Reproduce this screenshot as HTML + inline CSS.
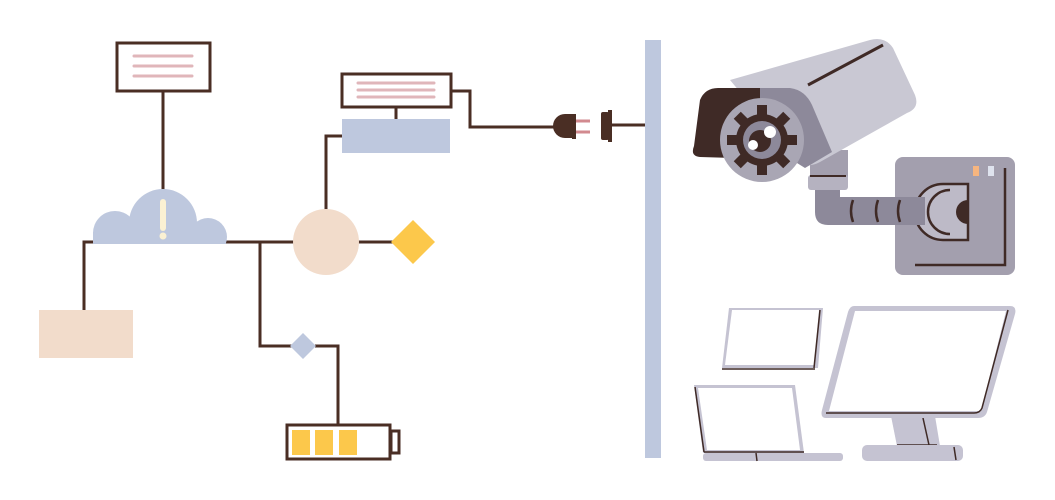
<!DOCTYPE html>
<html><head><meta charset="utf-8"><style>html,body{margin:0;padding:0;background:#fff}svg{display:block}</style></head>
<body>
<svg width="1055" height="500" viewBox="0 0 1055 500" xmlns="http://www.w3.org/2000/svg">
<defs><clipPath id="cc"><rect x="80" y="180" width="160" height="64"/></clipPath></defs>
<g fill="none" stroke="#4a2e24" stroke-width="3">
<line x1="163" y1="91" x2="163" y2="192"/>
<polyline points="94,242 84,242 84,311"/>
<line x1="226" y1="242" x2="296" y2="242"/>
<polyline points="260,242 260,346 292,346"/>
<polyline points="315,346 338,346 338,425"/>
<line x1="358" y1="242" x2="393" y2="242"/>
<polyline points="326,210 326,136 343,136"/>
<line x1="396" y1="107" x2="396" y2="120"/>
<polyline points="451,91 470,91 470,127 562,127"/>
<line x1="612" y1="125" x2="646" y2="125"/>
</g>
<rect x="117" y="43" width="93" height="48" fill="#fff" stroke="#4a2e24" stroke-width="3"/>
<g stroke="#e0b6ba" stroke-width="3" stroke-linecap="round"><line x1="134" y1="56" x2="192" y2="56"/><line x1="134" y1="66" x2="192" y2="66"/><line x1="134" y1="76" x2="192" y2="76"/></g>
<g fill="#bec8de" clip-path="url(#cc)"><circle cx="163" cy="223" r="34"/><circle cx="115" cy="233" r="22"/><circle cx="208" cy="237" r="19"/><rect x="93" y="232" width="133" height="12"/></g>
<rect x="160" y="199" width="6" height="32" rx="3" fill="#fbf1d3"/><circle cx="163" cy="236" r="3.5" fill="#fbf1d3"/>
<rect x="39" y="310" width="94" height="48" fill="#f2dccb"/>
<circle cx="326" cy="242" r="33" fill="#f2dccb"/>
<polygon points="413,220 435,242 413,264 391,242" fill="#fcc84b"/>
<polygon points="303,333 316,346 303,359 290,346" fill="#bec8de"/>
<rect x="287" y="425" width="103" height="34" fill="#fff" stroke="#4a2e24" stroke-width="3"/>
<rect x="391" y="431" width="8" height="22" fill="#fff" stroke="#4a2e24" stroke-width="3"/>
<g fill="#fcc84b"><rect x="292" y="430" width="18" height="25"/><rect x="315" y="430" width="18" height="25"/><rect x="339" y="430" width="18" height="25"/></g>
<rect x="342" y="119" width="108" height="34" fill="#bec8de"/>
<rect x="342" y="74" width="109" height="33" fill="#fff" stroke="#4a2e24" stroke-width="3"/>
<g stroke="#e0b6ba" stroke-width="3" stroke-linecap="round"><line x1="358" y1="83" x2="434" y2="83"/><line x1="358" y1="90" x2="434" y2="90"/><line x1="358" y1="97" x2="434" y2="97"/></g>
<path d="M572,114 L572,138 L565,138 A12,12 0 0 1 565,114 Z" fill="#4a2e24"/>
<rect x="572" y="114" width="4" height="25" fill="#4a2e24"/>
<g stroke="#d28a8f" stroke-width="3"><line x1="576" y1="121" x2="590" y2="121"/><line x1="576" y1="132" x2="590" y2="132"/></g>
<rect x="601" y="112" width="8" height="28" rx="2" fill="#4a2e24"/><rect x="608" y="110" width="4" height="32" fill="#4a2e24"/>
<rect x="645" y="40" width="16" height="418" fill="#bec8de"/>
<!-- mount -->
<rect x="895" y="157" width="120" height="118" rx="8" fill="#a39fae"/>
<polyline points="1005,168 1005,265 915,265" fill="none" stroke="#3f2a26" stroke-width="2.5"/>
<rect x="973" y="166" width="6" height="10" fill="#f6b57f"/><rect x="988" y="166" width="6" height="10" fill="#dfe3ee"/>
<path d="M968,184 L943,184 A28,28 0 0 0 943,240 L968,240 Z" fill="#bdbac7" stroke="#3f2a26" stroke-width="2.5"/>
<path d="M950,190 A22,22 0 0 0 950,234" fill="none" stroke="#3f2a26" stroke-width="2.5"/>
<path d="M968,200 A12,12 0 0 0 968,224 Z" fill="#3f2a26"/>
<path d="M815,175 L840,175 L840,197 L925,197 L925,225 L828,225 Q815,225 815,212 Z" fill="#8d899a"/>
<g stroke="#3f2a26" stroke-width="2.5" fill="none"><path d="M853,200 q-4,11 0,22"/><path d="M878,200 q-4,11 0,22"/><path d="M900,200 q-4,11 0,22"/></g>
<rect x="810" y="150" width="38" height="30" fill="#a39fae"/>
<rect x="808" y="175" width="40" height="15" rx="3" fill="#b5b2c0"/>
<line x1="810" y1="176" x2="846" y2="176" stroke="#3f2a26" stroke-width="2"/>
<!-- body -->
<path d="M730,80 L870,40 Q885,36 893,48 L915,95 Q920,108 907,113 L820,162 Q805,170 795,158 Z" fill="#c9c8d3"/>
<path d="M700,100 Q705,88 718,88 L775,88 L808,125 L800,160 L700,157 Q690,156 694,146 Z" fill="#3f2a26"/>
<path d="M760,88 L790,88 Q805,90 812,105 L832,152 L805,168 L760,140 Z" fill="#8d899a"/>
<line x1="808" y1="85" x2="883" y2="45" stroke="#3f2a26" stroke-width="3"/>
<circle cx="762" cy="140" r="42" fill="#a9a6b4"/>
<g fill="#3f2a26" transform="translate(762,140)">
<circle r="26"/>
<rect x="-5" y="-35" width="10" height="70"/><rect x="-35" y="-5" width="70" height="10"/><rect x="-5" y="-35" width="10" height="70" transform="rotate(45)"/><rect x="-5" y="-35" width="10" height="70" transform="rotate(-45)"/>
</g>
<circle cx="762" cy="140" r="19" fill="#8d899a"/>
<circle cx="760" cy="141" r="11" fill="#3f2a26"/>
<circle cx="770" cy="132" r="6" fill="#fff"/><circle cx="753" cy="145" r="5" fill="#fff"/>
<!-- tablet -->
<polygon points="729,308 823,308 818,368 722,368" fill="#c5c3d2"/>
<polygon points="732,310 819,310 814,365 725,365" fill="#fff"/>
<line x1="820" y1="310" x2="814" y2="368" stroke="#3f2a26" stroke-width="1.5"/>
<line x1="722" y1="369" x2="815" y2="369" stroke="#3f2a26" stroke-width="1.5"/>
<!-- laptop -->
<polygon points="694,385 795,385 804,453 703,453" fill="#c5c3d2"/>
<polygon points="698,388 792,388 800,450 707,450" fill="#fff"/>
<line x1="695" y1="387" x2="704" y2="452" stroke="#3f2a26" stroke-width="1.5"/>
<line x1="704" y1="452" x2="804" y2="452" stroke="#3f2a26" stroke-width="1.5"/>
<rect x="703" y="453" width="140" height="8" rx="3" fill="#c5c3d2"/>
<line x1="756" y1="453" x2="757" y2="461" stroke="#3f2a26" stroke-width="1.5"/>
<!-- monitor -->
<polygon points="891,416 935,416 940,446 897,446" fill="#c5c3d2"/>
<line x1="923" y1="418" x2="929" y2="445" stroke="#3f2a26" stroke-width="1.5"/>
<line x1="897" y1="445" x2="937" y2="445" stroke="#3f2a26" stroke-width="1.5"/>
<rect x="862" y="445" width="101" height="16" rx="5" fill="#c5c3d2"/>
<line x1="954" y1="447" x2="956" y2="460" stroke="#3f2a26" stroke-width="1.5"/>
<path d="M854,306 L1010,306 Q1017,306 1015,314 L987,412 Q985,418 978,418 L826,418 Q820,418 822,410 L848,312 Q850,306 854,306 Z" fill="#c5c3d2"/>
<polygon points="855,311 1006,311 981,411 829,411" fill="#fff"/>
<path d="M1008,310 L982,408 Q980,413 974,413 L826,413" fill="none" stroke="#3f2a26" stroke-width="1.5"/>
</svg>
</body></html>
